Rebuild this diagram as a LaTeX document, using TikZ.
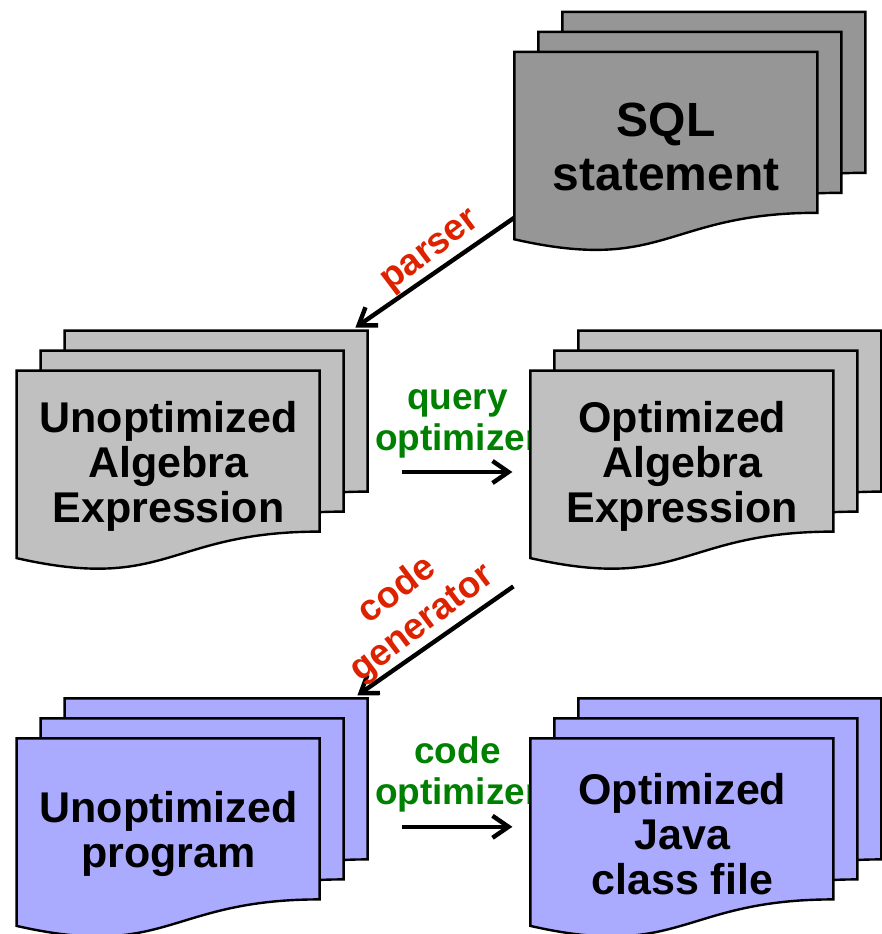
\documentclass[tikz,border=0pt]{standalone}
\usepackage{fontspec}
\setmainfont{Liberation Sans}
\usetikzlibrary{arrows.meta,positioning}
\definecolor{sqlColor}{RGB}{150,150,150}
\definecolor{algebraColor}{RGB}{192,192,192}
\definecolor{programColor}{RGB}{170,170,255}
\definecolor{stepRed}{RGB}{221,34,0}
\definecolor{stepGreen}{RGB}{0,128,0}
\tikzset{docnode/.style={align=center, inner sep=0pt, minimum width=151.5pt, minimum height=95pt, font=\fontsize{21.5}{22.5}\selectfont\bfseries}}
\tikzset{docpage/.style={draw, line width=1.2pt, line join=miter}}
\tikzset{steplabel/.style={align=center, inner sep=1pt, font=\fontsize{18.5}{20.5}\selectfont\bfseries}}
\tikzstyle{arrow} = [-{Straight Barb[length=8pt, width=11pt]}, line width=2.2pt]

% three stacked pages behind a document node
\newcommand{\docstack}[2]{%
	\begin{scope}[shift={(#1.north west)}]
		\foreach \dx/\dy in {48/-40, 24/-20, 0/0}
			\draw[docpage, fill=#2, shift={(\dx,\dy)}] (0,0) -- (303,0) -- (303,161)
				.. controls (151.5,161) and (151.5,222) .. (0,187.5) -- cycle;
	\end{scope}}

\begin{document}
\begin{tikzpicture}[x=0.5pt, y=-0.5pt]
	\pgfdeclarelayer{back}
	\pgfdeclarelayer{pages}
	\pgfsetlayers{back,pages,main}

	\useasboundingbox (0,0) rectangle (882,934);

	% Nodes
		\node (unalg) [docnode] at (168.5,466) {Unoptimized\\ Algebra\\ Expression};
		\node (optalg) [docnode, right=105pt of unalg] {Optimized\\ Algebra\\ Expression};
		\node (sql) [docnode, above=64pt of optalg, xshift=-8pt, font=\fontsize{24}{27}\selectfont\bfseries] {SQL\\ statement};

		\node (unprog) [docnode, below=88.5pt of unalg] {Unoptimized\\ program};
		\node (javacls) [docnode, right=105pt of unprog] {Optimized\\ Java\\ class file};

	% Pages
	\begin{pgfonlayer}{pages}
		\docstack{sql}{sqlColor}
		\docstack{unalg}{algebraColor}
		\docstack{optalg}{algebraColor}
		\docstack{unprog}{programColor}
		\docstack{javacls}{programColor}
	\end{pgfonlayer}

	% Connectors
	\begin{pgfonlayer}{back}
		\draw [arrow] ([shift={(0,-25)}]sql.south west) -- node[steplabel, text=stepRed, rotate=37, anchor=south, pos=0.45]
			{parser} ([shift={(35,-43)}]unalg.north east);

		\draw [arrow] ([shift={(82,6)}]unalg.east) -- node[steplabel, text=stepGreen, above=5pt]
			{query\\ optimizer} ([shift={(-18,6)}]optalg.west);

		\draw [arrow] ([shift={(-17,25)}]optalg.south west) -- node[steplabel, text=stepRed, rotate=37, anchor=south, pos=0.5]
			{code\\ generator} ([shift={(37,-43)}]unprog.north east);

		\draw [arrow] ([shift={(82,-7)}]unprog.east) -- node[steplabel, text=stepGreen, above=5pt]
			{code\\ optimizer} ([shift={(-18,-7)}]javacls.west);
	\end{pgfonlayer}

\end{tikzpicture}
\end{document}
